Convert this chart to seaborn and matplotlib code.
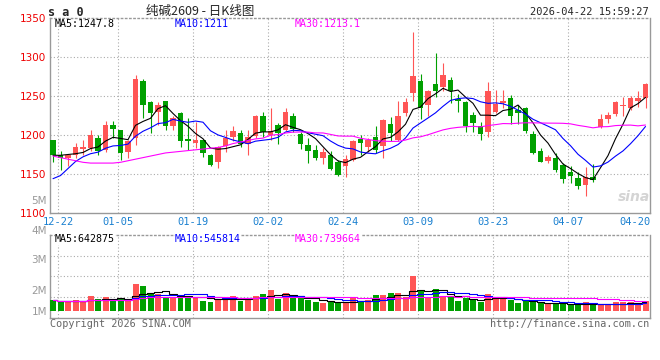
import numpy as np
import pandas as pd
import seaborn as sns
import matplotlib.pyplot as plt

# daily candles, 12-19 .. 04-21
opens = [1193, 1175, 1170, 1175, 1182, 1183, 1196, 1181, 1213, 1206,
         1178, 1196, 1269, 1242, 1230, 1243, 1211, 1228, 1195, 1190,
         1194, 1175, 1165, 1186, 1197, 1202, 1189, 1199, 1224, 1200,
         1213, 1207, 1225, 1201, 1187, 1181, 1170, 1175, 1165, 1160,
         1168, 1195, 1185, 1197, 1186, 1214, 1194, 1228, 1254, 1269,
         1239, 1265, 1262, 1271, 1246, 1242, 1226, 1212, 1204, 1230,
         1241, 1248, 1232, 1234, 1201, 1180, 1167, 1170, 1161, 1153,
         1145, 1136, 1146, 1210, 1220, 1227, 1237, 1234, 1244, 1248]
highs = [1194, 1180, 1176, 1190, 1194, 1207, 1200, 1218, 1218, 1207,
         1193, 1277, 1272, 1243, 1242, 1244, 1225, 1229, 1222, 1217,
         1195, 1176, 1186, 1207, 1211, 1206, 1207, 1226, 1230, 1234,
         1216, 1234, 1228, 1204, 1196, 1187, 1183, 1179, 1168, 1175,
         1194, 1200, 1196, 1212, 1220, 1223, 1243, 1248, 1332, 1278,
         1258, 1305, 1292, 1275, 1252, 1243, 1229, 1217, 1268, 1258,
         1258, 1251, 1238, 1236, 1205, 1183, 1175, 1177, 1164, 1160,
         1153, 1159, 1163, 1227, 1229, 1244, 1249, 1250, 1257, 1267]
lows = [1166, 1155, 1160, 1171, 1174, 1179, 1175, 1178, 1196, 1168,
        1170, 1187, 1222, 1203, 1213, 1207, 1207, 1184, 1181, 1183,
        1172, 1160, 1158, 1178, 1192, 1184, 1175, 1196, 1198, 1194,
        1188, 1205, 1204, 1182, 1164, 1168, 1163, 1155, 1147, 1146,
        1167, 1175, 1178, 1177, 1170, 1192, 1192, 1225, 1243, 1220,
        1224, 1249, 1256, 1241, 1230, 1204, 1204, 1194, 1197, 1228,
        1234, 1214, 1214, 1202, 1176, 1165, 1164, 1152, 1138, 1138,
        1131, 1122, 1140, 1209, 1215, 1224, 1224, 1232, 1236, 1234]
closes = [1175, 1170, 1175, 1184, 1184, 1200, 1180, 1213, 1208, 1177,
          1192, 1272, 1238, 1228, 1239, 1211, 1222, 1192, 1192, 1193,
          1177, 1162, 1185, 1196, 1205, 1189, 1197, 1225, 1204, 1205,
          1202, 1230, 1208, 1189, 1180, 1170, 1178, 1157, 1149, 1169,
          1192, 1190, 1193, 1181, 1219, 1202, 1225, 1242, 1276, 1234,
          1256, 1256, 1277, 1256, 1243, 1211, 1216, 1201, 1256, 1240,
          1244, 1224, 1228, 1205, 1177, 1166, 1172, 1155, 1144, 1148,
          1134, 1146, 1142, 1220, 1226, 1242, 1239, 1247, 1247, 1266]
volumes = [820, 670, 720, 820, 690, 1180, 920, 1100, 770, 920,
           770, 2080, 1920, 1410, 1280, 1020, 1020, 1230, 1150, 1100,
           770, 720, 850, 1020, 1180, 770, 980, 1180, 1310, 1620,
           920, 1360, 980, 1020, 850, 720, 640, 670, 670, 590,
           1020, 770, 850, 1230, 1230, 1380, 1380, 1100, 2720, 1620,
           1020, 1690, 1100, 1100, 770, 980, 850, 720, 1310, 980,
           980, 850, 620, 770, 670, 670, 520, 520, 560, 520,
           460, 670, 460, 460, 460, 670, 670, 720, 520, 770]  # thousand lots

# moving average values at the left edge (need days before the window)
ma5_head = [1174, 1174, 1175, 1176]
ma10_head = [1144, 1148, 1157, 1166, 1172, 1176, 1178, 1183, 1186]
ma30_head = [1173, 1171, 1169, 1167, 1165, 1164, 1164, 1164, 1164, 1165,
             1167, 1169, 1171, 1173, 1175, 1177, 1178, 1179, 1180, 1181,
             1182, 1183, 1184, 1186, 1189, 1191, 1193, 1195, 1196]

date_labels = ['12-22', '01-05', '01-19', '02-02', '02-24', '03-09', '03-23', '04-07', '04-20']
date_index = [1, 9, 19, 29, 39, 49, 59, 69, 78]
price_ticks = [1100, 1150, 1200, 1250, 1300, 1350]
vol_labels = ['5M', '4M', '3M', '2M', '1M']
ma_price_text = ['MA5:1247.8', 'MA10:1211', 'MA30:1213.1']
ma_vol_text = ['MA5:642875', 'MA10:545814', 'MA30:739664']

RED = '#ff5555'
GREEN = '#00a000'
GRID = '#aaaaaa'
ma_colors = ['black', '#0000ff', '#ff00ff']

df = pd.DataFrame({'open': opens, 'high': highs, 'low': lows,
                   'close': closes, 'volume': volumes})
df['idx'] = np.arange(len(df))
df['up'] = df['close'] >= df['open']
df['ma5'] = df['close'].rolling(5).mean()
df.loc[:3, 'ma5'] = ma5_head
df['ma10'] = df['close'].rolling(10).mean()
df.loc[:8, 'ma10'] = ma10_head
df['ma30'] = df['close'].rolling(30).mean()
df.loc[:28, 'ma30'] = ma30_head
for n in (5, 10, 30):
    df[f'vma{n}'] = df['volume'].rolling(n, min_periods=1).mean()

sns.set_style('white')
plt.rcParams['font.family'] = ['DejaVu Sans Mono', 'Noto Sans CJK SC']

W, H = 660, 360
fig = plt.figure(figsize=(6.6, 3.6), dpi=100)
ax = fig.add_axes([50 / W, 1 - 213 / H, 600 / W, 195 / H])
vax = fig.add_axes([50 / W, 1 - 318 / H, 600 / W, 83 / H])


def px(x, y):
    return x / W, 1 - y / H


# candles
colors = np.where(df['up'], RED, GREEN)
ax.vlines(df['idx'], df['low'], df['high'], colors=colors, linewidth=0.8, zorder=2)
body = (df['close'] - df['open']).abs().clip(lower=0.9)
ax.bar(df['idx'], body, bottom=np.minimum(df['open'], df['close']),
       width=0.76, color=colors, linewidth=0, zorder=3)
for col, c in zip(['ma5', 'ma10', 'ma30'], ma_colors):
    sns.lineplot(data=df, x='idx', y=col, color=c, linewidth=0.8, ax=ax, zorder=4)

# volume
sns.barplot(data=df, x='idx', y='volume', hue='up', palette={True: RED, False: GREEN},
            native_scale=True, dodge=False, width=0.8, saturation=1, errorbar=None,
            legend=False, linewidth=0, ax=vax, zorder=3)
for col, c in zip(['vma5', 'vma10', 'vma30'], ma_colors):
    sns.lineplot(data=df, x='idx', y=col, color=c, linewidth=0.8, ax=vax,
                 drawstyle='steps-mid', zorder=4)

xlim = (-0.4, 79.6)
grid_x = [i - 0.35 for i in date_index]
for a in (ax, vax):
    a.set_xlim(*xlim)
    a.set_xlabel('')
    a.set_ylabel('')
    for gx in grid_x[:-1]:
        a.axvline(gx, color=GRID, lw=0.8, ls=(0, (1, 2)), zorder=1)
    for s in ('left', 'bottom', 'right', 'top'):
        a.spines[s].set_color('#999999')
        a.spines[s].set_linewidth(1.0)
    a.spines['top'].set_linestyle((0, (1, 2)))

ax.set_ylim(1100, 1350)
for p in price_ticks[1:-1]:
    ax.axhline(p, color=GRID, lw=0.8, ls=(0, (1, 2)), zorder=1)
ax.set_yticks(price_ticks)
ax.set_yticklabels([str(p) for p in price_ticks], color='#ee0000',
                   family='DejaVu Sans', fontsize=7.5)
ax.set_xticks(grid_x)
ax.set_xticklabels(date_labels, color='#1a80d0', fontsize=7.5)
ax.tick_params(length=0, pad=3)

vlo, vhi = -540, 5850
vax.set_ylim(vlo, vhi)
for f in (0.25, 0.5, 0.75):
    vax.axhline(vlo + f * (vhi - vlo), color=GRID, lw=0.8, ls=(0, (1, 2)), zorder=1)
vax.set_xticks([])
vax.set_yticks([])

# gray volume labels (sit a little off the volume grid, as in the original)
for lab, y in zip(vol_labels, [201, 231, 260, 291, 312]):
    fig.text(*px(47, y), lab, color='#999999', family='DejaVu Sans', fontsize=7.5,
             ha='right', va='center')

# legends
for t, c, x in zip(ma_price_text, ma_colors, [55, 175, 295]):
    fig.text(*px(x, 24), t, color=c, fontsize=7.2, va='center')
for t, c, x in zip(ma_vol_text, ma_colors, [55, 175, 295]):
    fig.text(*px(x, 239.5), t, color=c, fontsize=7.2, va='center',
             bbox=dict(facecolor='white', edgecolor='none', pad=0.3))

fig.text(*px(48, 12), 's a 0', fontsize=8.5, fontweight='bold', va='center')
fig.text(*px(200, 11), '纯碱2609 - 日K线图', fontsize=9, ha='center', va='center',
         family=['Noto Sans CJK SC', 'DejaVu Sans'])
fig.text(*px(649, 12), '2026-04-22 15:59:27', fontsize=7.5, ha='right', va='center')
fig.text(*px(634, 197), 'sina', color='#d4d4d4', fontsize=10, fontweight='bold',
         style='italic', ha='center', va='center', family='DejaVu Sans')
fig.text(*px(50, 324), 'Copyright 2026 SINA.COM', color='#666666', fontsize=7.3, va='center')
fig.text(*px(649, 324), 'http://finance.sina.com.cn', color='#666666', fontsize=7.3,
         ha='right', va='center')

fig.savefig('out.png', dpi=100)
